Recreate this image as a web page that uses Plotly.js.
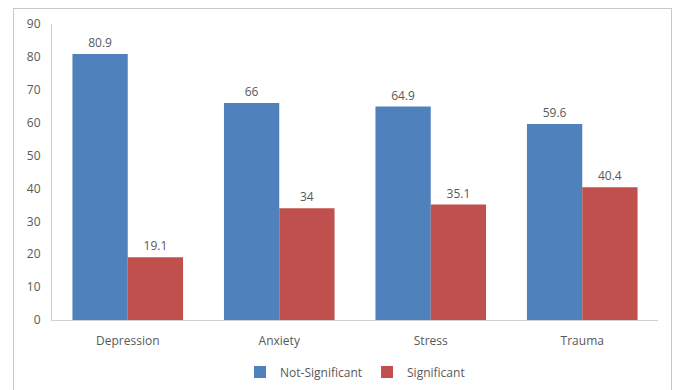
<!DOCTYPE html>
<html><head><meta charset="utf-8">
<script src="https://cdn.plot.ly/plotly-3.0.1.min.js"></script>
<style>
html,body{margin:0;padding:0;background:#fff;}
#frame{position:absolute;left:13px;top:8px;width:659px;height:400px;border:1px solid #c8c8c8;box-sizing:border-box;}
#chart{position:absolute;left:0;top:0;width:677px;height:390px;}
</style>
</head><body>
<div id="frame"></div>
<div id="chart"></div>
<script>
const categories = ["Depression", "Anxiety", "Stress", "Trauma"];
const notSignificant = [80.9, 66, 64.9, 59.6];
const significant = [19.1, 34, 35.1, 40.4];
const yTicks = [0, 10, 20, 30, 40, 50, 60, 70, 80, 90];

const fontFam = "Open Sans, Liberation Sans, sans-serif";
const traces = [
  {type:"bar", name:"Not-Significant", x:categories, y:notSignificant,
   marker:{color:"#4f81bd"}, text:notSignificant.map(String), textposition:"outside",
   textfont:{color:"#595959", size:12, family:fontFam}, cliponaxis:false},
  {type:"bar", name:"Significant", x:categories, y:significant,
   marker:{color:"#c0504d"}, text:significant.map(String), textposition:"outside",
   textfont:{color:"#595959", size:12, family:fontFam}, cliponaxis:false}
];
const layout = {
  width:677, height:390,
  paper_bgcolor:"rgba(0,0,0,0)", plot_bgcolor:"rgba(0,0,0,0)",
  margin:{l:52, r:19, t:24, b:70, autoexpand:false},
  barmode:"group", bargap:0.27, bargroupgap:0,
  font:{family:fontFam, size:12, color:"#595959"},
  xaxis:{showline:true, linecolor:"#d0d0d0", linewidth:1, ticks:"", showgrid:false,
         ticklabelstandoff:10, automargin:false, tickfont:{size:12, color:"#595959"}},
  yaxis:{range:[0,90], tickvals:yTicks, showline:true, linecolor:"#d0d0d0", linewidth:1,
         showgrid:false, zeroline:false, ticks:"", ticklabelstandoff:8, automargin:false,
         tickfont:{size:12, color:"#595959"}},
  showlegend:true,
  legend:{orientation:"h", x:0.5, xanchor:"center", yref:"container", y:0.046, yanchor:"middle",
          font:{size:12, color:"#595959"}, itemwidth:30, tracegroupgap:0}
};
Plotly.newPlot("chart", traces, layout, {displayModeBar:false, staticPlot:true});
</script>
</body></html>
